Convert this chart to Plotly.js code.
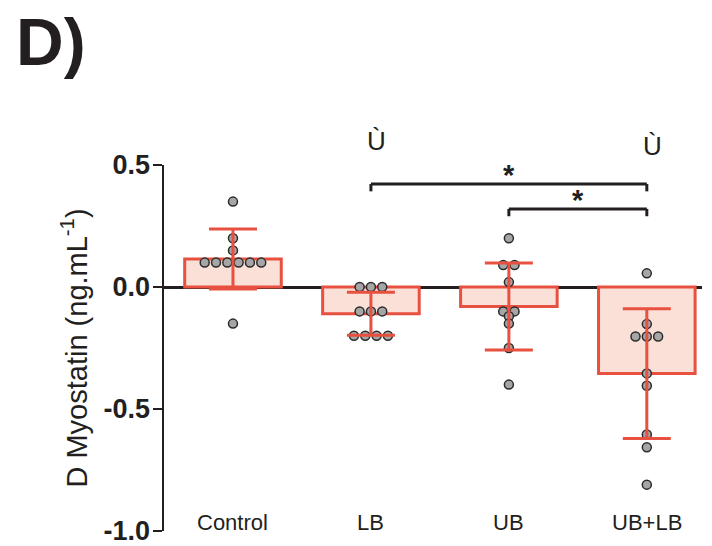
<!DOCTYPE html>
<html>
<head>
<meta charset="utf-8">
<script src="https://cdn.plot.ly/plotly-3.0.1.min.js"></script>
<style>html,body{margin:0;padding:0;background:#fff;}#chart{width:712px;height:546px;}</style>
</head>
<body>
<div id="chart"></div>
<script>
// ---- data ----
const categories = ['Control', 'LB', 'UB', 'UB+LB'];
const means = [0.115, -0.11, -0.08, -0.355];
const sds = [0.123, 0.088, 0.178, 0.266];
const controlPts = [0.35, 0.2, 0.15, 0.1, 0.1, 0.1, 0.1, 0.1, 0.1, -0.15];
const lbPts = [0, 0, 0, -0.1, -0.1, -0.1, -0.2, -0.2, -0.2, -0.2];
const ubPts = [0.2, 0.09, 0.09, 0.02, -0.1, -0.1, -0.12, -0.15, -0.25, -0.4];
const ublbPts = [0.056, -0.152, -0.203, -0.203, -0.203, -0.354, -0.405, -0.604, -0.657, -0.81];
const yTickVals = [0.5, 0, -0.5, -1];
const yTickText = ['0.5', '0.0', '-0.5', '-1.0'];
const comparisons = [[1, 3, '*'], [2, 3, '*']];   // [from group, to group, label]
const markedGroups = [1, 3];                        // groups flagged with the symbol
const markSymbol = 'Ù';

// ---- styling constants ----
const RED = '#e8503f';
const FILL = '#fbe0d8';
const INK = '#231f20';
const FONT = 'Liberation Sans, Arial, sans-serif';
const Y_RANGE = [-1, 0.5];

const allPts = [controlPts, lbPts, ubPts, ublbPts];
const xs = categories.map((_, i) => i);
const toPaperY = v => (v - Y_RANGE[0]) / (Y_RANGE[1] - Y_RANGE[0]);

// beeswarm-style horizontal spreading of tied values
function swarm(vals, center) {
  const sorted = vals.slice().sort((a, b) => b - a);
  const rows = [];
  sorted.forEach(v => {
    const last = rows[rows.length - 1];
    if (last && Math.abs(last[0] - v) < 0.015) last.push(v); else rows.push([v]);
  });
  const px = [], py = [];
  const step = 0.082;
  rows.forEach(r => r.forEach((v, i) => { px.push(center + (i - (r.length - 1) / 2) * step); py.push(v); }));
  return {px, py};
}

const traces = [];
traces.push({
  type: 'bar', x: xs, y: means, width: 0.7,
  marker: {color: FILL, line: {color: RED, width: 3}},
  hoverinfo: 'skip', showlegend: false
});
allPts.forEach((vals, i) => {
  const s = swarm(vals, i);
  traces.push({
    type: 'scatter', mode: 'markers', x: s.px, y: s.py, showlegend: false,
    marker: {size: 9, color: '#a6a6a6', line: {color: '#2b2b2b', width: 1.5}},
    cliponaxis: false
  });
});
// error bars drawn on top of the points
traces.push({
  type: 'scatter', mode: 'markers', x: xs, y: means, showlegend: false,
  marker: {size: 1, color: 'rgba(0,0,0,0)'},
  error_y: {type: 'data', array: sds, visible: true, color: RED, thickness: 3, width: 24},
  hoverinfo: 'skip'
});

const bracketLevels = [0.422, 0.32];
const bracketDrop = 0.03;
const shapes = [];
const annotations = [];
comparisons.forEach((c, k) => {
  const y = bracketLevels[k];
  const line = {color: INK, width: 3};
  shapes.push({type: 'line', xref: 'x', yref: 'y', x0: c[0], x1: c[1], y0: y, y1: y, line});
  shapes.push({type: 'line', xref: 'x', yref: 'y', x0: c[0], x1: c[0], y0: y, y1: y - bracketDrop, line});
  shapes.push({type: 'line', xref: 'x', yref: 'y', x0: c[1], x1: c[1], y0: y, y1: y - bracketDrop, line});
  annotations.push({xref: 'x', yref: 'y', x: (c[0] + c[1]) / 2, y: y, yanchor: 'bottom', yshift: -9,
    text: '<b>' + c[2] + '</b>', showarrow: false, font: {family: FONT, size: 29, color: INK}});
});
const markY = [0.60, 0.578];
markedGroups.forEach((g, k) => {
  annotations.push({xref: 'x', yref: 'paper', x: g + 0.04, y: toPaperY(markY[k]), yanchor: 'middle',
    text: markSymbol, showarrow: false, font: {family: FONT, size: 26, color: INK}});
});
categories.forEach((c, i) => {
  annotations.push({xref: 'x', yref: 'y', x: i, y: -0.965, text: c, showarrow: false,
    font: {family: FONT, size: 22, color: INK}});
});
annotations.push({xref: 'paper', yref: 'paper', x: -0.278, y: 1.335, xanchor: 'left', yanchor: 'middle',
  text: '<b>D)</b>', showarrow: false, font: {family: 'Liberation Sans Narrow, ' + FONT, size: 66, color: INK}});

const layout = {
  width: 712, height: 546,
  margin: {l: 164, r: 10, t: 165, b: 15},
  paper_bgcolor: '#fff', plot_bgcolor: '#fff',
  showlegend: false,
  xaxis: {range: [-0.5, 3.4], showgrid: false, zeroline: false, showline: false,
    showticklabels: false, ticks: '', fixedrange: true},
  yaxis: {range: Y_RANGE, showgrid: false, zeroline: true, zerolinecolor: INK, zerolinewidth: 3,
    showline: true, linecolor: INK, linewidth: 2.5, ticks: 'outside', ticklen: 9, tickwidth: 2.5,
    tickcolor: INK, tickvals: yTickVals, ticktext: yTickText, ticklabeloverflow: 'allow',
    ticklabelstandoff: -3,
    tickfont: {family: FONT, size: 27, color: INK, weight: 'bold'},
    title: {text: 'D Myostatin (ng.mL<sup>-1</sup>)', font: {family: FONT, size: 29, color: INK}, standoff: 8}},
  shapes, annotations
};
Plotly.newPlot('chart', traces, layout, {displayModeBar: false, staticPlot: true});
</script>
</body>
</html>
